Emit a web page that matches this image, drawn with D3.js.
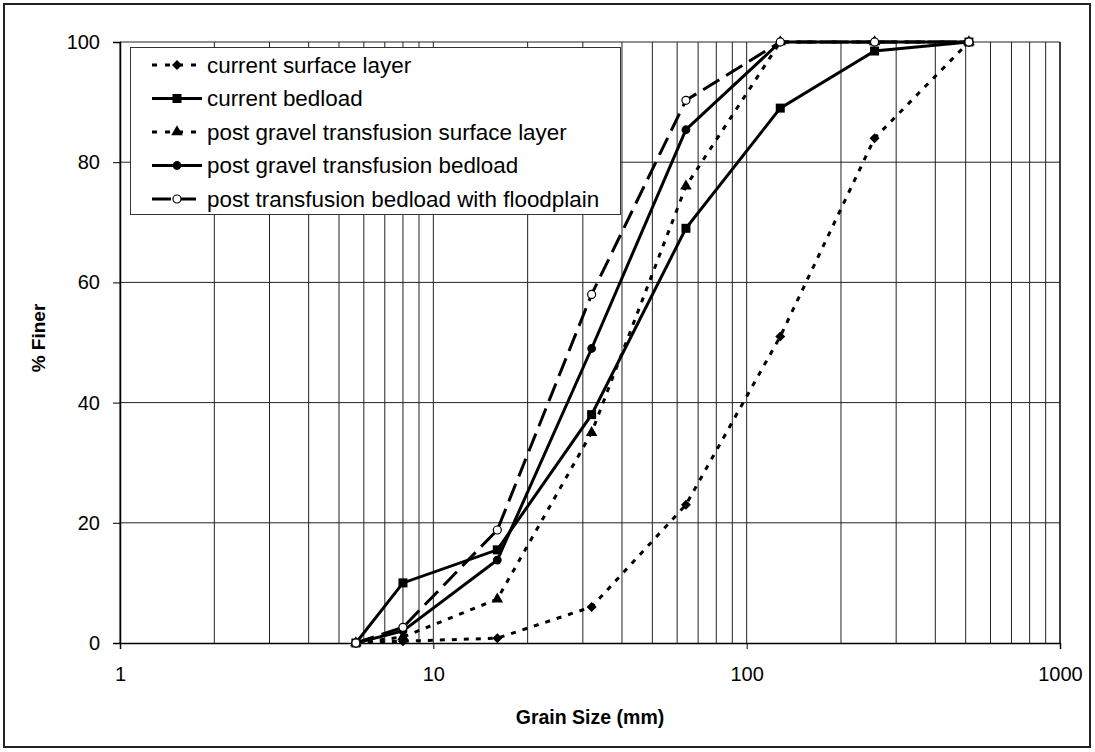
<!DOCTYPE html>
<html>
<head>
<meta charset="utf-8">
<script src="https://cdn.jsdelivr.net/npm/d3@7"></script>
<style>
  html, body { margin: 0; padding: 0; background: #fff; }
  svg { display: block; }
  text { font-family: "Liberation Sans", Arial, sans-serif; fill: #000; }
</style>
</head>
<body>
<svg id="chart" width="1095" height="752"></svg>
<script>
// ---- data ----
const grainSizes = [5.66, 8, 16, 32, 64, 128, 256, 512];
const currentSurface = [0, 0.3, 0.8, 6, 23, 51, 84, 100];
const currentBedload = [0, 10, 15.5, 38, 69, 89, 98.5, 100];
const postSurface = [0, 1, 7.3, 35, 76, 100, 100, 100];
const postBedload = [0, 2, 13.8, 49, 85.4, 100, 100, 100];
const postFloodplain = [0, 2.6, 18.8, 58, 90.3, 100, 100, 100];
const seriesNames = [
  "current surface layer",
  "current bedload",
  "post gravel transfusion surface layer",
  "post gravel transfusion bedload",
  "post transfusion bedload with floodplain"
];
const yTicks = [0, 20, 40, 60, 80, 100];
const xTicks = [1, 10, 100, 1000];
const xTitle = "Grain Size (mm)";
const yTitle = "% Finer";

// ---- layout ----
const svg = d3.select("#chart");
const L = 120, R = 1060, T = 42, B = 643;
const x = d3.scaleLog().domain([1, 1000]).range([L, R]);
const y = d3.scaleLinear().domain([0, 100]).range([B, T]);

// outer border
svg.append("rect").attr("x", 4).attr("y", 4).attr("width", 1086).attr("height", 743)
  .attr("fill", "#fff").attr("stroke", "#222").attr("stroke-width", 2);

// grid
const grid = svg.append("g");
grid.selectAll("line.v").data(x.ticks()).enter().append("line")
  .attr("x1", d => x(d)).attr("x2", d => x(d)).attr("y1", T).attr("y2", B)
  .attr("stroke", "#222").attr("stroke-width", 1);
grid.selectAll("line.h").data(yTicks.filter(d => d > 0)).enter().append("line")
  .attr("x1", L).attr("x2", R).attr("y1", d => y(d)).attr("y2", d => y(d))
  .attr("stroke", "#222").attr("stroke-width", 1);
// right frame
svg.append("line").attr("x1", R).attr("x2", R).attr("y1", T).attr("y2", B)
  .attr("stroke", "#222").attr("stroke-width", 1.5);

// axes
const yAxis = svg.append("g").attr("transform", `translate(${L},0)`)
  .call(d3.axisLeft(y).tickValues(yTicks).tickSize(7).tickPadding(13).tickFormat(d3.format("d")));
const xAxis = svg.append("g").attr("transform", `translate(0,${B})`)
  .call(d3.axisBottom(x).tickValues(xTicks).tickSize(6).tickPadding(18).tickFormat(d3.format("d")));
[yAxis, xAxis].forEach(a => {
  a.select(".domain").attr("stroke", "#000").attr("stroke-width", 1.5);
  a.selectAll(".tick line").attr("stroke", "#000").attr("stroke-width", 1);
  a.selectAll(".tick text").style("font-size", "20px").style("font-family", '"Liberation Sans", Arial, sans-serif').attr("fill", "#000");
});

// titles
svg.append("text").attr("x", (L + R) / 2).attr("y", 724).attr("text-anchor", "middle")
  .style("font-size", "19.5px").style("font-weight", "bold").text(xTitle);
svg.append("text").attr("transform", `translate(45,338) rotate(-90)`)
  .attr("text-anchor", "middle").style("font-size", "19px").style("font-weight", "bold").text(yTitle);

// series definitions
const shortDash = "5,7", longDash = "19,8";
const series = [
  { name: seriesNames[0], values: currentSurface, dash: shortDash, sym: "diamond" },
  { name: seriesNames[1], values: currentBedload, dash: null, sym: "square" },
  { name: seriesNames[2], values: postSurface, dash: shortDash, sym: "triangle" },
  { name: seriesNames[3], values: postBedload, dash: null, sym: "circle" },
  { name: seriesNames[4], values: postFloodplain, dash: longDash, sym: "open" }
];

function drawMarker(g, kind, cx, cy) {
  if (kind === "square") {
    g.append("rect").attr("x", cx - 4.5).attr("y", cy - 4.5).attr("width", 9).attr("height", 9).attr("fill", "#000");
  } else if (kind === "diamond") {
    g.append("path").attr("d", d3.symbol().type(d3.symbolSquare).size(50)())
      .attr("transform", `translate(${cx},${cy}) rotate(45)`).attr("fill", "#000");
  } else if (kind === "triangle") {
    g.append("path").attr("d", d3.symbol().type(d3.symbolTriangle).size(58)())
      .attr("transform", `translate(${cx},${cy})`).attr("fill", "#000");
  } else if (kind === "circle") {
    g.append("circle").attr("cx", cx).attr("cy", cy).attr("r", 4.4).attr("fill", "#000");
  } else if (kind === "open") {
    g.append("circle").attr("cx", cx).attr("cy", cy).attr("r", 4).attr("fill", "#fff")
      .attr("stroke", "#000").attr("stroke-width", 1.2);
  }
}

const line = d3.line().x(d => x(d[0])).y(d => y(d[1]));
const plot = svg.append("g");
series.forEach(s => {
  const pts = grainSizes.map((g, i) => [g, s.values[i]]);
  plot.append("path").attr("d", line(pts)).attr("fill", "none").attr("stroke", "#000")
    .attr("stroke-width", 3)
    .attr("stroke-dasharray", s.dash);
});
series.forEach(s => {
  const g = plot.append("g");
  grainSizes.forEach((gs, i) => drawMarker(g, s.sym, x(gs), y(s.values[i])));
});

// legend
const lg = svg.append("g");
lg.append("rect").attr("x", 130.5).attr("y", 47.5).attr("width", 490).attr("height", 167)
  .attr("fill", "#fff").attr("stroke", "#333").attr("stroke-width", 1);
series.forEach((s, i) => {
  const cy = 65 + i * 33.5;
  lg.append("line").attr("x1", 152).attr("x2", 202).attr("y1", cy).attr("y2", cy)
    .attr("stroke", "#000").attr("stroke-width", 3)
    .attr("stroke-dasharray", s.dash === shortDash ? "5,8" : (s.dash ? "19,6" : null));
  drawMarker(lg, s.sym, 177, cy);
  lg.append("text").attr("x", 207).attr("y", cy).attr("dy", "0.35em")
    .style("font-size", "22.4px").text(s.name);
});
</script>
</body>
</html>
